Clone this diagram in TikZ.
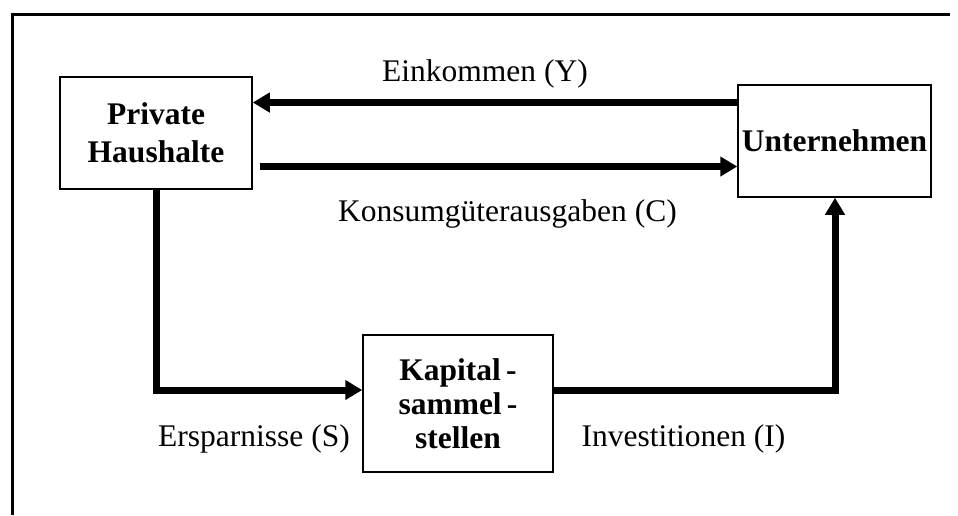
\documentclass[tikz,border=0pt]{standalone}
\usepackage{fontspec}
\setmainfont{Liberation Serif}
\usetikzlibrary{arrows.meta}
\tikzset{
  box/.style={draw, line width=1.5pt, inner sep=0pt, align=center,
    font=\fontsize{31.5}{37.8}\selectfont\bfseries},
  flow/.style={line width=7pt, line join=miter},
  flowarrow/.style={flow, -{Triangle[length=17pt,width=19pt]}},
  lbl/.style={inner sep=0pt, anchor=base, font=\fontsize{31.5}{37.8}\selectfont},
  frameline/.style={line width=3pt}
}
\begin{document}
\begin{tikzpicture}[x=1pt,y=-1pt]
\useasboundingbox (0,0) rectangle (958,515);
% partial frame
\coordinate (fA) at (12,515);
\coordinate (fB) at (12,14);
\coordinate (fC) at (950,14);
\draw[frameline] (fA) -- (fB) -- (fC);
% boxes
\node[box, minimum width=192pt, minimum height=112pt] (P) at (156,133) {Private\\Haushalte};
\node[box, minimum width=193pt, minimum height=112pt] (U) at (834.5,141) {Unternehmen};
\node[box, minimum width=190pt, minimum height=137pt,
  font=\fontsize{31.5}{34}\selectfont\bfseries] (K) at (458,403.5) {Kapital\,-\\sammel\,-\\stellen};
% helper coordinates
\coordinate (yE) at (0,102.5);
\coordinate (kS) at (260,166.5);
\coordinate (yB) at (0,390);
\coordinate (xI) at (835,0);
% connectors
\draw[flowarrow] (U.west |- yE) -- (P.east |- yE);
\draw[flowarrow] (kS) -- (U.west |- kS);
\draw[flowarrow] (P.south) -- (P.south |- yB) -- (K.west |- yB);
\draw[flowarrow] (K.east |- yB) -- (xI |- yB) -- (xI |- U.south);
% labels
\node[lbl] (lE) at (485,81) {Einkommen (Y)};
\node[lbl] (lC) at (507.5,221) {Konsumgüterausgaben (C)};
\node[lbl] (lS) at (254,446) {Ersparnisse (S)};
\node[lbl] (lI) at (683.5,446) {Investitionen (I)};
\end{tikzpicture}
\end{document}
